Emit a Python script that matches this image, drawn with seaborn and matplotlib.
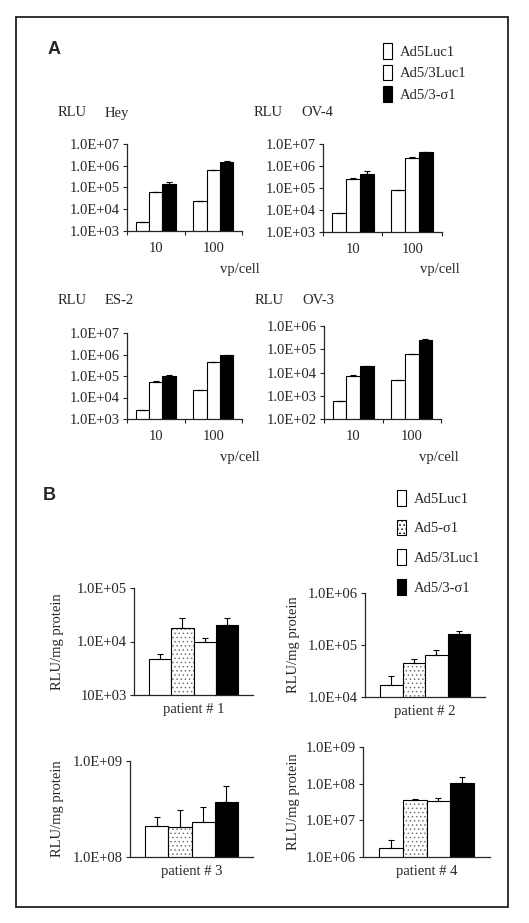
import numpy as np
import pandas as pd
import matplotlib
matplotlib.use("Agg")
import matplotlib.pyplot as plt
from matplotlib.patches import Patch, Rectangle
import seaborn as sns

# Panel A: luciferase activity in ovarian cancer cell lines (RLU)
a_cells = ["Hey", "OV-4", "ES-2", "OV-3"]
a_doses = ["10", "100"]
a_vectors = ["Ad5Luc1", "Ad5/3Luc1", "Ad5/3-σ1"]
a_ad5luc1 = [[2.6e3, 2.4e4], [7.6e3, 8.2e4], [2.6e3, 2.3e4], [6.0e2, 4.8e3]]
a_ad53luc1 = [[5.9e4, 6.3e5], [2.6e5, 2.4e6], [5.3e4, 4.3e5], [7.0e3, 6.0e4]]
a_ad53s1 = [[1.4e5, 1.5e6], [4.5e5, 4.3e6], [1.0e5, 9.0e5], [1.9e4, 2.5e5]]
a_ad5luc1_err = [[0, 0], [0, 0], [0, 0], [0, 0]]
a_ad53luc1_err = [[4e3, 3e4], [2e4, 2e5], [5e3, 2e4], [5e2, 3e3]]
a_ad53s1_err = [[3e4, 1e5], [1.4e5, 2e5], [1.5e4, 5e4], [1e3, 2e4]]
a_ylims = [(1e3, 1e7), (1e3, 1e7), (1e3, 1e7), (1e2, 1e6)]

# Panel B: primary patient samples (RLU/mg protein)
b_patients = ["patient # 1", "patient # 2", "patient # 3", "patient # 4"]
b_vectors = ["Ad5Luc1", "Ad5-σ1", "Ad5/3Luc1", "Ad5/3-σ1"]
b_ad5luc1 = [4.8e3, 1.67e4, 2.1e8, 1.76e6]
b_ad5s1 = [1.8e4, 4.6e4, 2.05e8, 3.5e7]
b_ad53luc1 = [1.0e4, 6.5e4, 2.3e8, 3.3e7]
b_ad53s1 = [2.07e4, 1.6e5, 3.7e8, 1.06e8]
b_ad5luc1_err = [1.1e3, 0.83e4, 0.5e8, 1.24e6]
b_ad5s1_err = [0.9e4, 0.8e4, 1.05e8, 0.3e7]
b_ad53luc1_err = [0.15e4, 1.6e4, 1.0e8, 0.8e7]
b_ad53s1_err = [0.73e4, 0.3e5, 1.8e8, 0.44e8]
b_ylims = [(1e3, 1e5), (1e4, 1e6), (1e8, 1e9), (1e6, 1e9)]
b_ticklabels = [["10E+03", "1.0E+04", "1.0E+05"],
                ["1.0E+04", "1.0E+05", "1.0E+06"],
                ["1.0E+08", "1.0E+09"],
                ["1.0E+06", "1.0E+07", "1.0E+08", "1.0E+09"]]

colors = {"Ad5Luc1": "white", "Ad5-σ1": "white", "Ad5/3Luc1": "white", "Ad5/3-σ1": "black"}

sns.set_style("ticks")
plt.rcParams["font.family"] = ["Liberation Serif", "DejaVu Serif"]
plt.rcParams["hatch.linewidth"] = 0.6
FS = 10.5

W, H = 529, 923
fig = plt.figure(figsize=(W / 100, H / 100), dpi=100)


def px_axes(x0, y0, x1, y1):
    return fig.add_axes([x0 / W, 1 - y1 / H, (x1 - x0) / W, (y1 - y0) / H])


def exp_label(v):
    return "1.0E+%02d" % int(round(np.log10(v)))


def add_errors(ax, errs):
    # errs: one list per hue level, in category order
    for cont, e in zip(ax.containers, errs):
        xs = [b.get_x() + b.get_width() / 2 for b in cont]
        ys = [b.get_height() for b in cont]
        ax.errorbar(xs, ys, yerr=[np.zeros(len(e)), e], fmt="none",
                    ecolor="black", elinewidth=0.8, capsize=2, capthick=0.8)


def style_axis(ax):
    sns.despine(ax=ax)
    for s in ["left", "bottom"]:
        ax.spines[s].set_linewidth(0.9)
    ax.minorticks_off()
    ax.tick_params(axis="y", which="major", direction="out", length=3,
                   width=0.8, labelsize=FS, pad=2)


# ---- panel A ----
a_boxes = [(127, 144, 242, 231), (323, 144, 442, 232),
           (127, 333, 242, 419), (324, 326, 441, 419)]
a_title_y = [113, 113, 300, 300]
for i, cell in enumerate(a_cells):
    ax = px_axes(*a_boxes[i])
    df = pd.DataFrame({
        "dose": a_doses * 3,
        "vector": np.repeat(a_vectors, 2),
        "rlu": a_ad5luc1[i] + a_ad53luc1[i] + a_ad53s1[i],
    })
    ax.set_yscale("log")
    sns.barplot(data=df, x="dose", y="rlu", hue="vector", hue_order=a_vectors,
                palette=colors, edgecolor="black", linewidth=0.8, width=0.7,
                errorbar=None, legend=False, ax=ax)
    add_errors(ax, [a_ad5luc1_err[i], a_ad53luc1_err[i], a_ad53s1_err[i]])
    lo, hi = a_ylims[i]
    ax.set_ylim(lo, hi)
    ax.set_xlim(-0.5, 1.5)
    ticks = [lo * 10 ** k for k in range(int(round(np.log10(hi / lo))) + 1)]
    ax.set_yticks(ticks)
    ax.set_yticklabels([exp_label(t) for t in ticks])
    style_axis(ax)
    ax.set_xticks([0, 1])
    ax.set_xticklabels(a_doses, fontsize=FS)
    ax.set_xticks([-0.5, 0.5, 1.5], minor=True)
    ax.tick_params(axis="x", which="major", length=0, pad=8)
    ax.tick_params(axis="x", which="minor", length=3, width=0.8, direction="out")
    ax.set_xlabel("")
    ax.set_ylabel("")
    x0, y0, x1, y1 = a_boxes[i]
    ty = a_title_y[i]
    fig.text((x0 - 69) / W, 1 - ty / H, "RLU", fontsize=FS, va="center")
    fig.text((x0 - 22) / W, 1 - ty / H, cell, fontsize=FS, va="center")
    fig.text((x1 - 22) / W, 1 - (y1 + 38) / H, "vp/cell", fontsize=FS,
             va="center")

# ---- panel B ----
b_boxes = [(134, 588, 253, 695), (365, 593, 485, 697),
           (130, 761, 253, 857), (363, 747, 490, 857)]
b_vals = [b_ad5luc1, b_ad5s1, b_ad53luc1, b_ad53s1]
b_errs = [b_ad5luc1_err, b_ad5s1_err, b_ad53luc1_err, b_ad53s1_err]
for i, pat in enumerate(b_patients):
    ax = px_axes(*b_boxes[i])
    df = pd.DataFrame({
        "patient": [pat] * 4,
        "vector": b_vectors,
        "rlu": [v[i] for v in b_vals],
    })
    ax.set_yscale("log")
    sns.barplot(data=df, x="patient", y="rlu", hue="vector", hue_order=b_vectors,
                palette=colors, edgecolor="black", linewidth=0.8, width=0.75,
                errorbar=None, legend=False, ax=ax)
    for bar in ax.containers[1]:
        bar.set_hatch("....")
        bar._hatch_color = matplotlib.colors.to_rgba("#777777")
    add_errors(ax, [[e[i]] for e in b_errs])
    lo, hi = b_ylims[i]
    ax.set_ylim(lo, hi)
    ax.set_xlim(-0.5, 0.5)
    labels = b_ticklabels[i]
    ticks = [lo * 10 ** k for k in range(len(labels))]
    ax.set_yticks(ticks)
    ax.set_yticklabels(labels)
    style_axis(ax)
    ax.set_xticks([])
    ax.set_xlabel(pat, fontsize=FS, labelpad=6)
    ax.set_ylabel("")
    x0, y0, x1, y1 = b_boxes[i]
    ylx = 57 if i % 2 == 0 else 293
    fig.text(ylx / W, 1 - ((y0 + y1) / 2) / H, "RLU/mg protein", fontsize=FS,
             rotation=90, ha="center", va="center")

# legends
leg_a = [Patch(facecolor=colors[v], edgecolor="black", linewidth=0.8) for v in a_vectors]
fig.legend(leg_a, a_vectors, loc="upper left", bbox_to_anchor=(377 / W, 1 - 37 / H),
           frameon=False, fontsize=FS, handlelength=0.6, handleheight=1.3,
           handletextpad=0.6, labelspacing=0.4, borderaxespad=0)
leg_b = [Patch(facecolor=colors[v], edgecolor="black", linewidth=0.8,
               hatch="...." if v == "Ad5-σ1" else None) for v in b_vectors]
fig.legend(leg_b, b_vectors, loc="upper left", bbox_to_anchor=(391 / W, 1 - 484 / H),
           frameon=False, fontsize=FS, handlelength=0.6, handleheight=1.3,
           handletextpad=0.6, labelspacing=0.95, borderaxespad=0)

fig.text(48 / W, 1 - 50 / H, "A", fontsize=13, fontweight="bold",
         family="Liberation Sans", va="center")
fig.text(43 / W, 1 - 496 / H, "B", fontsize=13, fontweight="bold",
         family="Liberation Sans", va="center")

fig.add_artist(Rectangle((16 / W, 1 - 907 / H), (508 - 16) / W, (907 - 17) / H,
                         transform=fig.transFigure, fill=False, lw=1.3,
                         edgecolor="#222222"))

fig.savefig("out.png", dpi=100, facecolor="white")
